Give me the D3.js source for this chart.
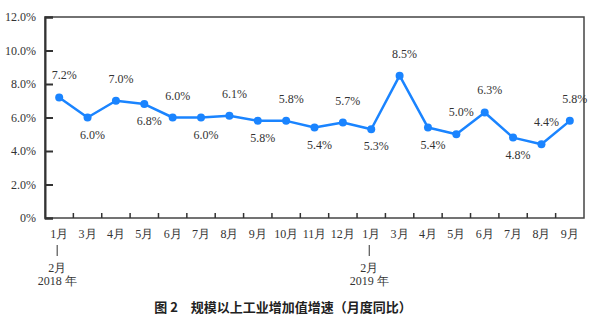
<!DOCTYPE html>
<html>
<head>
<meta charset="utf-8">
<script src="https://cdn.jsdelivr.net/npm/d3@7"></script>
<style>
	body { margin: 0; background: #fff; }
	svg { display: block; }
</style>
</head>
<body>
<div id="chart"></div>
<script>
// 数据
var months = ["1月", "3月", "4月", "5月", "6月", "7月", "8月", "9月", "10月", "11月", "12月",
	"1月", "3月", "4月", "5月", "6月", "7月", "8月", "9月"];
var growth = [7.2, 6.0, 7.0, 6.8, 6.0, 6.0, 6.1, 5.8, 5.8, 5.4, 5.7, 5.3, 8.5, 5.4, 5.0, 6.3, 4.8, 4.4, 5.8];
var belowLabels = [1, 3, 5, 7, 9, 11, 13, 16];
var yTicks = [0, 2, 4, 6, 8, 10, 12];
var yearNotes = [{ index: 0, month: "2月", year: "2018 年" }, { index: 11, month: "2月", year: "2019 年" }];
var caption = "图 2　规模以上工业增加值增速（月度同比）";

var serif = "'Liberation Serif', 'Times New Roman', Times, 'DejaVu Serif', serif";
var width = 600, height = 328;
var margin = { top: 17, right: 16, bottom: 110, left: 45 };
var innerW = width - margin.left - margin.right;
var innerH = height - margin.top - margin.bottom;

var svg = d3.select("#chart").append("svg")
	.attr("width", width)
	.attr("height", height);

var g = svg.append("g")
	.attr("transform", "translate(" + margin.left + "," + margin.top + ")");

var x = d3.scaleBand()
	.domain(d3.range(growth.length))
	.range([0, innerW]);

var y = d3.scaleLinear()
	.domain([0, 12])
	.range([innerH, 0]);

function cx(i) { return x(i) + x.bandwidth() / 2; }

// 边框
g.append("rect")
	.attr("width", innerW)
	.attr("height", innerH)
	.attr("fill", "none")
	.attr("stroke", "#444")
	.attr("stroke-width", 1.5);

// Y轴
var yAxis = g.append("g")
	.call(d3.axisLeft(y)
		.tickValues(yTicks)
		.tickSize(-8)
		.tickPadding(9)
		.tickFormat(function(v) { return v == 0 ? "0%" : v.toFixed(1) + "%"; }));
yAxis.select(".domain").attr("stroke", "#333").attr("stroke-width", 2);
yAxis.selectAll(".tick line").attr("stroke", "#333").attr("stroke-width", 2);
yAxis.selectAll(".tick text")
	.style("font-family", serif)
	.style("font-size", "12px")
	.attr("fill", "#333");

// X轴刻度（类目之间）
g.selectAll(".xtick")
	.data(d3.range(1, growth.length))
	.enter()
	.append("line")
	.attr("x1", function(i) { return x(i); })
	.attr("x2", function(i) { return x(i); })
	.attr("y1", innerH)
	.attr("y2", innerH - 5)
	.attr("stroke", "#333")
	.attr("stroke-width", 1.5);

g.selectAll(".xlabel")
	.data(months)
	.enter()
	.append("text")
	.attr("x", function(d, i) { return cx(i); })
	.attr("y", innerH + 20)
	.attr("text-anchor", "middle")
	.style("font-family", serif)
	.style("font-size", "12px")
	.attr("fill", "#333")
	.text(function(d) { return d; });

// 年份注释
var note = g.selectAll(".note")
	.data(yearNotes)
	.enter()
	.append("g")
	.attr("transform", function(d) { return "translate(" + (cx(d.index) - 2) + "," + innerH + ")"; });
note.append("line")
	.attr("y1", 27)
	.attr("y2", 38)
	.attr("stroke", "#333");
note.selectAll("text")
	.data(function(d) { return [d.month, d.year]; })
	.enter()
	.append("text")
	.attr("y", function(d, i) { return 54 + i * 13; })
	.attr("text-anchor", "middle")
	.style("font-family", serif)
	.style("font-size", "12px")
	.attr("fill", "#333")
	.text(function(d) { return d; });

// 折线
var line = d3.line()
	.x(function(d, i) { return cx(i); })
	.y(function(d) { return y(d); });

g.append("path")
	.datum(growth)
	.attr("d", line)
	.attr("fill", "none")
	.attr("stroke", "#1a84ff")
	.attr("stroke-width", 2.5)
	.attr("stroke-linejoin", "round");

g.selectAll(".dot")
	.data(growth)
	.enter()
	.append("circle")
	.attr("cx", function(d, i) { return cx(i); })
	.attr("cy", function(d) { return y(d); })
	.attr("r", 4)
	.attr("fill", "#1a84ff");

g.selectAll(".val")
	.data(growth)
	.enter()
	.append("text")
	.attr("x", function(d, i) { return cx(i) + 5; })
	.attr("y", function(d, i) { return belowLabels.indexOf(i) >= 0 ? y(d) + 21 : y(d) - 18; })
	.attr("text-anchor", "middle")
	.style("font-family", serif)
	.style("font-size", "12px")
	.attr("fill", "#333")
	.text(function(d) { return d.toFixed(1) + "%"; });

// 标题
svg.append("text")
	.attr("x", 283)
	.attr("y", 312)
	.attr("text-anchor", "middle")
	.style("font-family", "'Noto Sans CJK SC', sans-serif")
	.style("font-weight", "bold")
	.style("font-size", "13px")
	.attr("fill", "#222")
	.text(caption);
</script>
</body>
</html>
